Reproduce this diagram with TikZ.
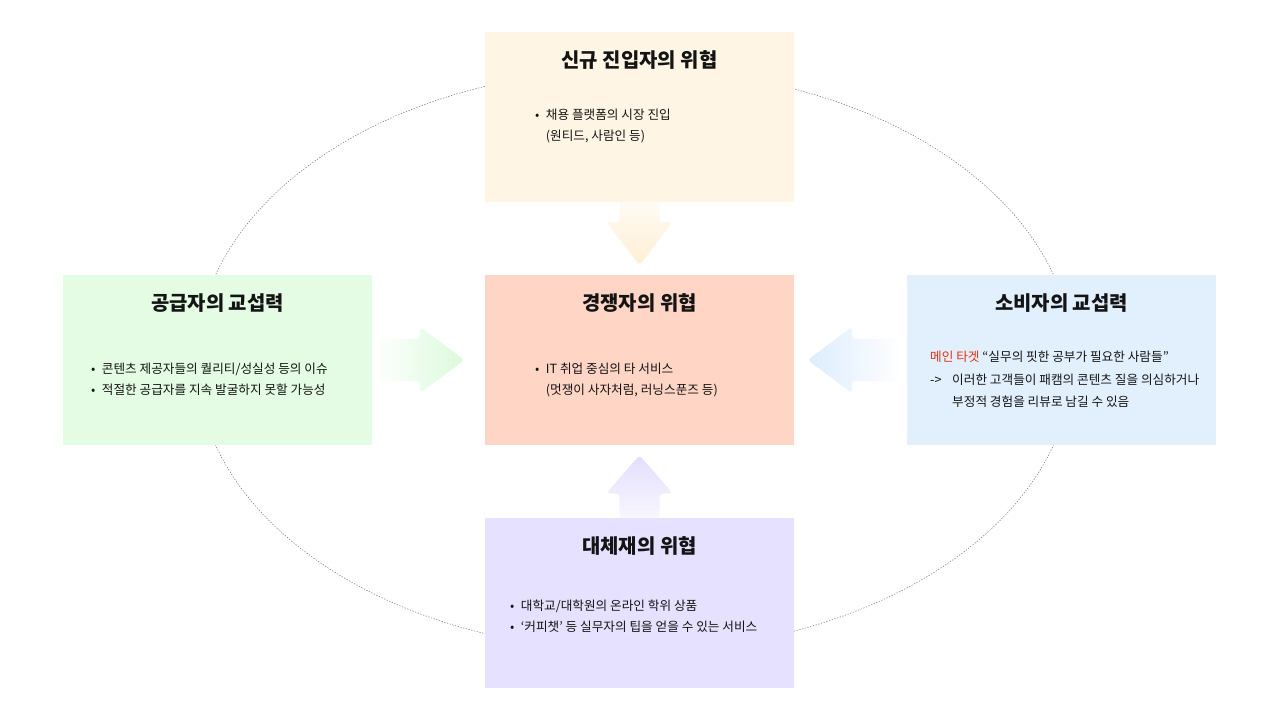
\documentclass[tikz,border=0pt]{standalone}
\usepackage{fontspec}
\setmainfont{Noto Sans CJK KR}
\usetikzlibrary{positioning, backgrounds}

\definecolor{ink}{HTML}{141414}
\definecolor{targetred}{HTML}{E8300C}
\definecolor{newinfill}{HTML}{FFF5E4}
\definecolor{supplyfill}{HTML}{E3FCE3}
\definecolor{rivalfill}{HTML}{FFD5C5}
\definecolor{buyerfill}{HTML}{E2F0FE}
\definecolor{substfill}{HTML}{E5E1FE}
\definecolor{newinarrow}{HTML}{FFEFD6}
\definecolor{supplyarrow}{HTML}{DDFADD}
\definecolor{buyerarrow}{HTML}{DCECFD}
\definecolor{substarrow}{HTML}{E3DEFD}

\newcommand{\forcebullet}{\makebox[3.2mm][l]{•}}

\begin{document}
\begin{tikzpicture}[
    x=0.3mm, y=-0.3mm,
    force/.style={rectangle, minimum width=92.7mm, minimum height=51mm, inner sep=0pt},
    head/.style={font=\fontsize{17}{20}\selectfont\bfseries, anchor=base, text=ink, inner sep=0pt},
    body/.style={font=\fontsize{10.8}{17.9}\selectfont, anchor=base west, align=left, inner sep=0pt, text=ink},
    orbit/.style={draw=black!50, line width=0.5pt, dash pattern=on 1.1pt off 1.3pt},
    push/.style={rounded corners=3pt}
  ]
  \useasboundingbox (0,0) rectangle (1280,720);

  % five forces
  \node[force, fill=newinfill] (newin) at (639.5,117) {};
  \node[force, fill=supplyfill] (supply) at (217.5,360) {};
  \node[force, fill=rivalfill] (rival) at (639.5,360) {};
  \node[force, fill=buyerfill] (buyer) at (1061.5,360) {};
  \node[force, fill=substfill] (subst) at (639.5,602.5) {};

  \begin{scope}[on background layer]
    \draw[orbit] ([xshift=-1.5mm]rival.center) ellipse [x radius=438, y radius=291];
  \end{scope}

  % titles
  \node[head] (newinhead) at (639.5,67) {신규 진입자의 위협};
  \node[head] (supplyhead) at (217.5,310) {공급자의 교섭력};
  \node[head] (rivalhead) at (639.5,310) {경쟁자의 위협};
  \node[head] (buyerhead) at (1061.5,310) {소비자의 교섭력};
  \node[head] (substhead) at (639.5,553) {대체재의 위협};

  % bodies (placed at the baseline of their last line)
  \node[body] (newintext) at (535,140.8) {\forcebullet 채용 플랫폼의 시장 진입\\\hspace*{3.2mm}(원티드, 사람인 등)};
  \node[body] (supplytext) at (91,394.8) {\forcebullet 콘텐츠 제공자들의 퀄리티/성실성 등의 이슈\\\forcebullet 적절한 공급자를 지속 발굴하지 못할 가능성};
  \node[body] (rivaltext) at (535,394.8) {\forcebullet IT 취업 중심의 타 서비스\\\hspace*{3.2mm}(멋쟁이 사자처럼, 러닝스푼즈 등)};
  \node[body, font=\fontsize{10.8}{19.2}\selectfont] (buyertext) at (930,406.8) {\textcolor{targetred}{메인 타겟} “실무의 핏한 공부가 필요한 사람들\symbol{"22}\\\makebox[6.6mm][l]{->}이러한 고객들이 패캠의 콘텐츠 질을 의심하거나\\\hspace*{6.6mm}부정적 경험을 리뷰로 남길 수 있음};
  \node[body] (substtext) at (510,631.8) {\forcebullet 대학교/대학원의 온라인 학위 상품\\\forcebullet ‘커피챗’ 등 실무자의 팁을 얻을 수 있는 서비스};

  % arrows into the centre, faded in thin bands
  \begin{scope}[shift={(newin.south)}]
    \clip[push] (-20,-2) -- (-20,20) -- (-33,20) -- (0,63) -- (33,20) -- (20,20) -- (20,-2) -- cycle;
    \foreach \i [evaluate=\i as \p using 30+70*\i/20] in {0,...,20}
      \fill[newinarrow!\p!white] (-40,3*\i-0.5) rectangle (40,3*\i+3.5);
  \end{scope}
  \begin{scope}[shift={(supply.east)}]
    \clip[push] (4,-21) -- (48,-21) -- (48,-33) -- (92,0) -- (48,33) -- (48,21) -- (4,21) -- cycle;
    \foreach \i [evaluate=\i as \p using 5+95*\i/21] in {0,...,21}
      \fill[supplyarrow!\p!white] (4+4*\i-0.5,-40) rectangle (4+4*\i+4.5,40);
  \end{scope}
  \begin{scope}[shift={(buyer.west)}]
    \clip[push] (-8,-21) -- (-55,-21) -- (-55,-33) -- (-99,0) -- (-55,33) -- (-55,21) -- (-8,21) -- cycle;
    \foreach \i [evaluate=\i as \p using 5+95*\i/22] in {0,...,22}
      \fill[buyerarrow!\p!white] (-8-4*\i+0.5,-40) rectangle (-8-4*\i-4.5,40);
  \end{scope}
  \begin{scope}[shift={(subst.north)}]
    \clip[push] (-20,2) -- (-20,-24) -- (-33,-24) -- (0,-62) -- (33,-24) -- (20,-24) -- (20,2) -- cycle;
    \foreach \i [evaluate=\i as \p using 30+70*\i/20] in {0,...,20}
      \fill[substarrow!\p!white] (-40,-3*\i+0.5) rectangle (40,-3*\i-3.5);
  \end{scope}

\end{tikzpicture}
\end{document}
